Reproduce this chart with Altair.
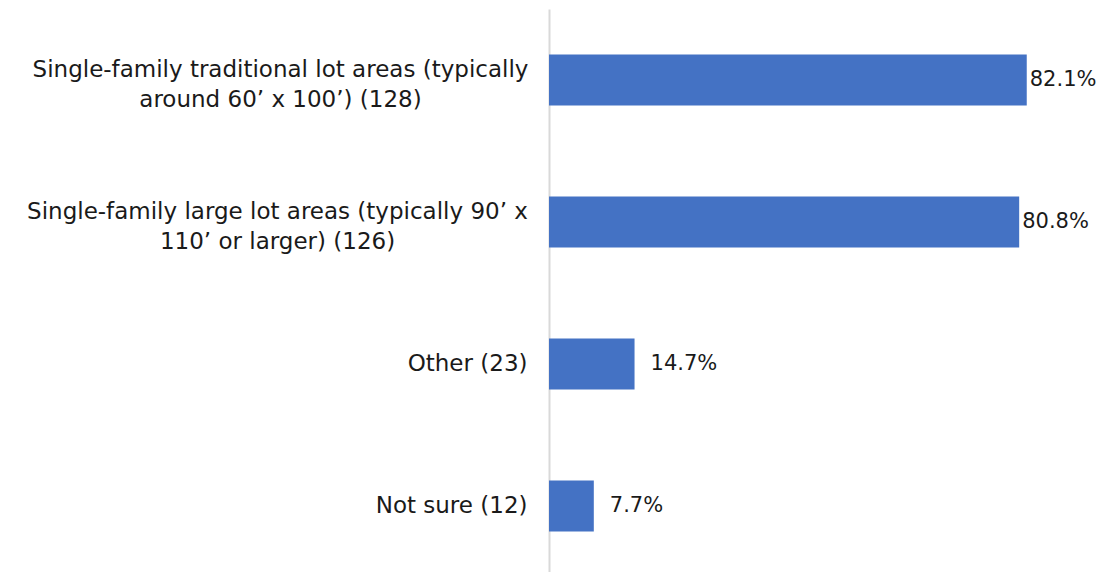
import altair as alt
import pandas as pd

# Survey answers: label lines, respondent counts and shares
label_lines = [
    ["Single-family traditional lot areas (typically", "around 60’ x 100’) (128)"],
    ["Single-family large lot areas (typically 90’ x", "110’ or larger)  (126)"],
    ["Other (23)"],
    ["Not sure (12)"],
]
shares = [82.1, 80.8, 14.7, 7.7]

categories = ["|".join(lines) for lines in label_lines]
df = pd.DataFrame({"category": categories, "share": shares})
df["label"] = df["share"].map(lambda v: f"{v:.1f}%")

FONT = "DejaVu Sans"
TEXT = "#1a1a1a"

y_axis = alt.Axis(
    title=None,
    ticks=False,
    grid=False,
    domainColor="#d9d9d9",
    domainWidth=2,
    labelFont=FONT,
    labelFontSize=23,
    labelColor=TEXT,
    labelLineHeight=30,
    labelLimit=600,
    labelExpr="split(datum.label, '|')",
    labelAlign={
        "condition": {"test": "indexof(datum.label, '|') >= 0", "value": "center"},
        "value": "right",
    },
    labelOffset={
        "condition": {"test": "indexof(datum.label, '|') >= 0", "value": -10},
        "value": 0,
    },
    labelPadding={
        "condition": [
            {"test": "indexof(datum.label, 'traditional') >= 0", "value": 269},
            {"test": "indexof(datum.label, 'large lot') >= 0", "value": 272},
        ],
        "value": 22,
    },
)

y_enc = alt.Y(
    "category:N",
    sort=categories,
    scale=alt.Scale(paddingInner=0, paddingOuter=0),
    axis=y_axis,
)

x_scale = alt.Scale(domain=[0, 94], nice=False)

bars = alt.Chart(df).mark_bar(size=51, color="#4472C4").encode(
    x=alt.X("share:Q", scale=x_scale, axis=None),
    y=y_enc,
)

text_base = alt.Chart(df).encode(
    x=alt.X("share:Q", scale=x_scale, axis=None),
    y=y_enc,
    text="label:N",
)

labels_long = text_base.mark_text(
    align="left", baseline="middle", dx=3, font=FONT, fontSize=21, color=TEXT
).transform_filter("datum.share > 50")

labels_short = text_base.mark_text(
    align="left", baseline="middle", dx=16, font=FONT, fontSize=21, color=TEXT
).transform_filter("datum.share <= 50")

chart = (
    alt.layer(bars, labels_long, labels_short)
    .properties(
        width=547,
        height=568,
        background="white",
        autosize=alt.AutoSizeParams(type="none"),
        padding={"left": 549, "top": 9, "right": 3, "bottom": 0},
    )
    .configure_view(strokeWidth=0)
)

chart.save("out.html", embed_options={"renderer": "svg", "actions": False})
